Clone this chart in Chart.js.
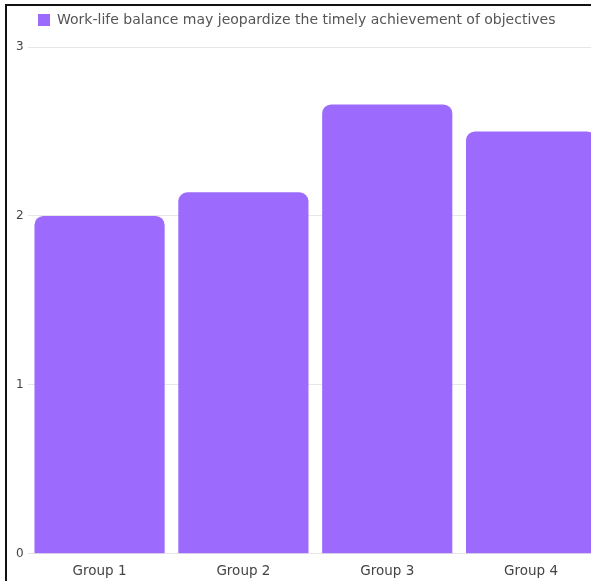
<!DOCTYPE html>
<html>
<head>
<meta charset="utf-8">
<script src="https://cdn.jsdelivr.net/npm/chart.js@4"></script>
<style>
  html, body { margin: 0; padding: 0; background: #fff; overflow: hidden; }
  #frame {
    position: absolute; left: 5px; top: 4px;
    width: 596px; height: 579px;
    border-left: 2px solid #111; border-top: 2px solid #111;
  }
  #chart-box { width: 596px; height: 579px; }
</style>
</head>
<body>
<div id="frame"><div id="chart-box"><canvas id="bar-chart"></canvas></div></div>
<script>
// Chart values
const groups = ['Group 1', 'Group 2', 'Group 3', 'Group 4'];
const balanceScores = [2.0, 2.14, 2.66, 2.5];
const seriesLabel = 'Work-life balance may jeopardize the timely achievement of objectives';
const yTicks = [0, 1, 2, 3];

const purple = '#9c6bfd';
const fontFamily = '"DejaVu Sans", sans-serif';

// more room under the legend, and nudge it right
const legendTweak = {
    id: 'legendTweak',
    beforeInit(chart) {
        const legend = chart.legend;
        const fit = legend.fit;
        legend.fit = function() {
            fit.call(this);
            this.height += 10;
        };
        const draw = legend.draw;
        legend.draw = function() {
            const c = this.ctx;
            c.save();
            c.translate(19, 0);
            draw.call(this);
            c.restore();
        };
    }
};

const ctx = document.getElementById('bar-chart').getContext('2d');
new Chart(ctx, {
    type: 'bar',
    data: {
        labels: groups,
        datasets: [{
            label: seriesLabel,
            data: balanceScores,
            backgroundColor: purple,
            borderWidth: 0,
            borderRadius: { topLeft: 9, topRight: 9 },
            borderSkipped: 'bottom',
            categoryPercentage: 0.905,
            barPercentage: 1
        }]
    },
    options: {
        responsive: true,
        maintainAspectRatio: false,
        animation: false,
        layout: { padding: { left: 5, right: 0, top: 0, bottom: 3 } },
        plugins: {
            legend: {
                display: true,
                align: 'start',
                labels: {
                    boxWidth: 12,
                    boxHeight: 12,
                    color: '#555',
                    padding: 7,
                    font: { family: fontFamily, size: 14 }
                }
            },
            tooltip: { enabled: false }
        },
        scales: {
            x: {
                grid: { display: false },
                border: { display: false },
                ticks: { color: '#444', padding: 2, font: { family: fontFamily, size: 13.5 } }
            },
            y: {
                min: 0,
                max: 3,
                afterBuildTicks: axis => { axis.ticks = yTicks.map(v => ({ value: v })); },
                grid: { color: '#e6e6e6', drawTicks: false },
                border: { display: false },
                ticks: { color: '#444', padding: 4, font: { family: fontFamily, size: 12 } }
            }
        }
    },
    plugins: [legendTweak]
});
</script>
</body>
</html>
